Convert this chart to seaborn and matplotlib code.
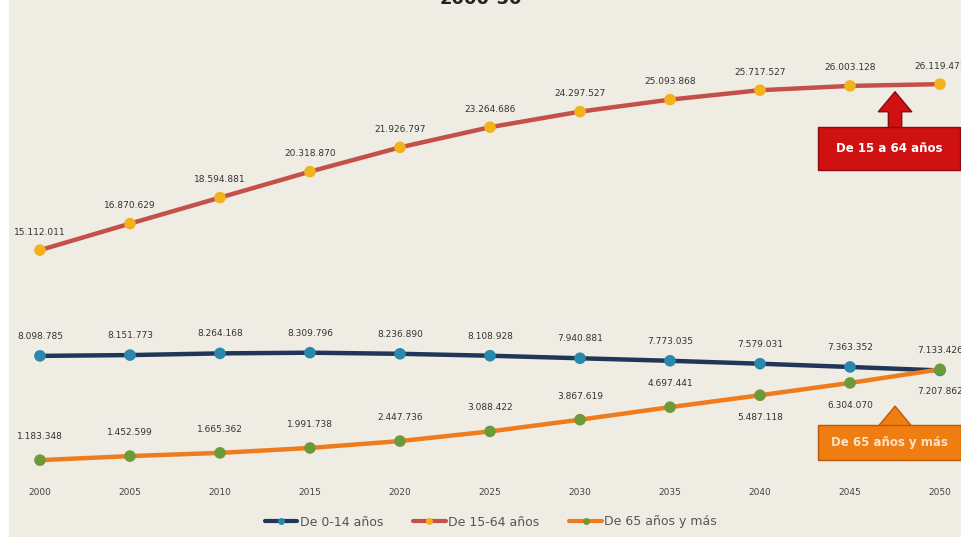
import matplotlib
matplotlib.use("Agg")
import matplotlib.pyplot as plt
from matplotlib.lines import Line2D
from matplotlib.patches import Rectangle
import seaborn as sns
import pandas as pd

years = [2000, 2005, 2010, 2015, 2020, 2025, 2030, 2035, 2040, 2045, 2050]
de_0_14 = [8098785, 8151773, 8264168, 8309796, 8236890, 8108928, 7940881,
           7773035, 7579031, 7363352, 7133426]
de_15_64 = [15112011, 16870629, 18594881, 20318870, 21926797, 23264686,
            24297527, 25093868, 25717527, 26003128, 26119471]
de_65_mas = [1183348, 1452599, 1665362, 1991738, 2447736, 3088422, 3867619,
             4697441, 5487118, 6304070, 7207862]
series_names = ["De 0-14 años", "De 15-64 años", "De 65 años y más"]

df = pd.DataFrame({
    "year": years * 3,
    "value": de_0_14 + de_15_64 + de_65_mas,
    "serie": [series_names[0]] * 11 + [series_names[1]] * 11 + [series_names[2]] * 11,
})

line_cols = {"De 0-14 años": "#1f3658", "De 15-64 años": "#c4504a", "De 65 años y más": "#ee7c1c"}
mark_cols = {"De 0-14 años": "#2a88ad", "De 15-64 años": "#f2b21c", "De 65 años y más": "#6c9a38"}
bg = "#efece3"

sns.set_style("white")
plt.rcParams["font.family"] = ["DejaVu Sans"]

fig = plt.figure(figsize=(9.62, 5.37), dpi=100, facecolor=bg)
ax = fig.add_axes([0, 59 / 537, 1, 478 / 537])
ax.set_facecolor("none")

sns.lineplot(data=df, x="year", y="value", hue="serie", palette=line_cols,
             linewidth=3.2, legend=False, ax=ax)
sns.scatterplot(data=df, x="year", y="value", hue="serie", palette=mark_cols,
                s=70, edgecolor="none", legend=False, ax=ax, zorder=5)

ax.set_xlim(1997.78, 2051.22)
ax.set_ylim(0, 31.70e6)
for s in ax.spines.values():
    s.set_visible(False)
ax.set_yticks([])
ax.set_xticks(years)
ax.set_xticklabels([str(y) for y in years], fontsize=6.5, color="#444444")
ax.tick_params(axis="x", length=0, pad=7)
ax.set_xlabel("")
ax.set_ylabel("")

def fmt(v):
    return f"{v:,}".replace(",", ".")

lab = dict(ha="center", va="center", fontsize=6.5, color="#333333",
           textcoords="offset points")
for x, v in zip(years, de_15_64):
    ax.annotate(fmt(v), (x, v), xytext=(0, 13), **lab)
for x, v in zip(years, de_0_14):
    ax.annotate(fmt(v), (x, v), xytext=(0, 14), **lab)
for i, (x, v) in enumerate(zip(years, de_65_mas)):
    dy = 17 if i < 8 else -16
    ax.annotate(fmt(v), (x, v), xytext=(0, dy), **lab)

# callout boxes (arrows start inside the box so the tail shows)
arrow = "simple,head_width=1.5,head_length=0.9,tail_width=0.6"
ax.add_patch(Rectangle((2043.2, 20.42e6), 7.9, 2.86e6, facecolor="#cf1111",
                       edgecolor="#8a0a0a", lw=1, zorder=7))
ax.text(2047.2, 21.85e6, "De 15 a 64 años", ha="center", va="center",
        fontsize=8.5, fontweight="bold", color="white", zorder=8)
ax.annotate("", xy=(2047.5, 25.8e6), xytext=(2047.5, 22.6e6),
            arrowprops=dict(arrowstyle=arrow, mutation_scale=16,
                            facecolor="#cf1111", edgecolor="#8a0a0a"), zorder=6)

ax.add_patch(Rectangle((2043.2, 1.19e6), 7.95, 2.32e6, facecolor="#ef7d12",
                       edgecolor="#b85a08", lw=1, zorder=7))
ax.text(2047.2, 2.35e6, "De 65 años y más", ha="center", va="center",
        fontsize=8.5, fontweight="bold", color="#fde2c6", zorder=8)
ax.annotate("", xy=(2047.5, 4.95e6), xytext=(2047.5, 2.6e6),
            arrowprops=dict(arrowstyle=arrow, mutation_scale=16,
                            facecolor="#ef7d12", edgecolor="#b85a08"), zorder=6)

# legend
handles = [Line2D([0], [0], color=line_cols[n], lw=3, marker="o", markersize=5,
                  markerfacecolor=mark_cols[n], markeredgecolor="none") for n in series_names]
fig.legend(handles, series_names, loc="center", bbox_to_anchor=(491 / 962, 1 - 522 / 537),
           ncol=3, frameon=False, fontsize=9, handlelength=2.6, columnspacing=2.4,
           handletextpad=0.2, labelcolor="#555555")

# white strip on the left edge and clipped title
fig.patches.append(Rectangle((0, 0), 9 / 962, 1, transform=fig.transFigure,
                             facecolor="white", edgecolor="none", zorder=10))
fig.text(0.5, 1 - 4 / 537, "2000-50", ha="center", va="baseline", fontsize=13,
         fontweight="bold", color="#222222")

fig.savefig("out.png", dpi=100, facecolor=bg)
